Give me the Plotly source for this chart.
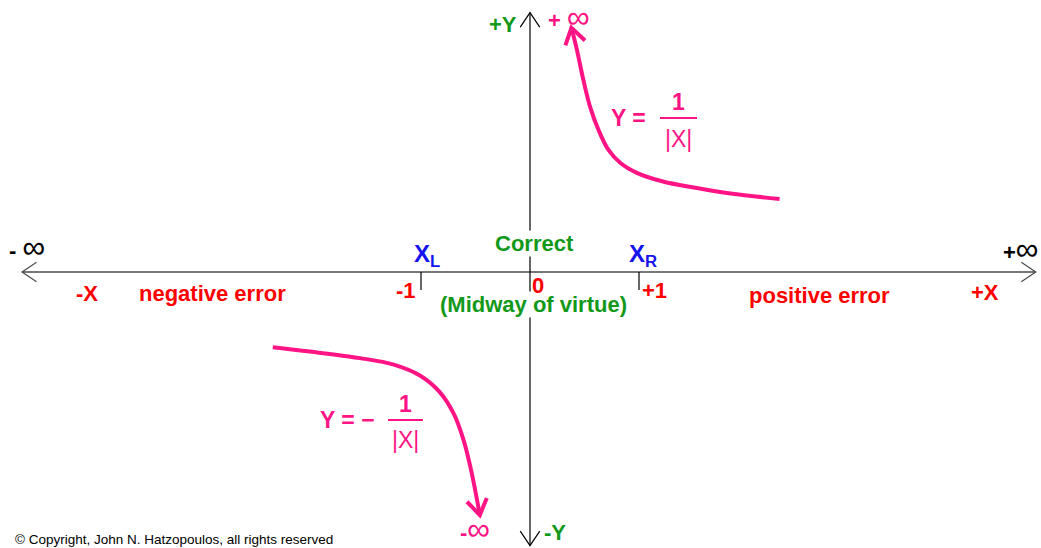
import plotly.graph_objects as go
import numpy as np

# pixels per unit and pixel position of the origin in the 1041x548 picture
PX = 109
X0, Y0 = 530, 272
W, H = 1041, 548

# curve points (x in units of the +-1 ticks, y on the same scale)
upper_x = [2.29, 1.84, 1.53, 1.22, 0.98, 0.83, 0.72, 0.63, 0.55, 0.49, 0.43, 0.38]
upper_y = [0.67, 0.72, 0.77, 0.83, 0.91, 1.00, 1.12, 1.30, 1.52, 1.76, 2.04, 2.24]
lower_x = [-2.36, -2.02, -1.56, -1.25, -1.01, -0.83, -0.70, -0.61, -0.54, -0.46]
lower_y = [-0.69, -0.73, -0.79, -0.85, -0.95, -1.10, -1.30, -1.54, -1.82, -2.23]

x_axis_ends = [-4.66, 4.64]
y_axis_ends = [-2.51, 2.38]
tick_x = [-1, 1]
tick_len = 0.165

PINK = '#ff1485'
GREEN = '#13991a'
RED = '#ff0000'
BLUE = '#1414f0'
FONT = 'Arial, Liberation Sans, sans-serif'


def p(px, py):
    """pixel position -> chart units"""
    return (px - X0) / PX, (Y0 - py) / PX


def arrow_head(x, y, xp, yp, length=0.16, half_angle=34):
    """open V arrow head at (x, y), pointing away from (xp, yp)"""
    d = np.array([xp - x, yp - y], dtype=float)
    d /= np.linalg.norm(d)
    out_x, out_y = [], []
    for a in (half_angle, -half_angle):
        t = np.radians(a)
        r = np.array([d[0] * np.cos(t) - d[1] * np.sin(t),
                      d[0] * np.sin(t) + d[1] * np.cos(t)])
        out_x.append(x + r[0] * length)
        out_y.append(y + r[1] * length)
    return [out_x[0], x, out_x[1]], [out_y[0], y, out_y[1]]


fig = go.Figure()

# axes
fig.add_trace(go.Scatter(x=x_axis_ends, y=[0, 0], mode='lines',
                         line=dict(color='#4a4a4a', width=1.6)))
fig.add_trace(go.Scatter(x=[0, 0], y=y_axis_ends, mode='lines',
                         line=dict(color='black', width=1.2)))
for hx, hy in [arrow_head(x_axis_ends[0], 0, 0, 0),
               arrow_head(x_axis_ends[1], 0, 0, 0)]:
    fig.add_trace(go.Scatter(x=hx, y=hy, mode='lines',
                             line=dict(color='#4a4a4a', width=1.2)))
for hx, hy in [arrow_head(0, y_axis_ends[0], 0, 0),
               arrow_head(0, y_axis_ends[1], 0, 0)]:
    fig.add_trace(go.Scatter(x=hx, y=hy, mode='lines',
                             line=dict(color='black', width=1.2)))

# ticks at -1 and +1
for tx in tick_x:
    fig.add_trace(go.Scatter(x=[tx, tx], y=[0, -tick_len], mode='lines',
                             line=dict(color='black', width=1.2)))

# the two branches
for cx, cy in [(upper_x, upper_y), (lower_x, lower_y)]:
    fig.add_trace(go.Scatter(x=cx, y=cy, mode='lines',
                             line=dict(color=PINK, width=4, shape='spline')))
    hx, hy = arrow_head(cx[-1], cy[-1], cx[-2], cy[-2], length=0.17, half_angle=33)
    fig.add_trace(go.Scatter(x=hx, y=hy, mode='lines',
                             line=dict(color=PINK, width=4)))

annotations = []


def label(text, px, py, color, size=22, bold=True, bg=None, xanchor='center'):
    x, y = p(px, py)
    annotations.append(dict(
        x=x, y=y, text='<b>%s</b>' % text if bold else text,
        showarrow=False, xanchor=xanchor, yanchor='middle',
        font=dict(family=FONT, size=size, color=color),
        bgcolor=bg, borderpad=0))


INF = "<span style='font-size:32px;font-weight:normal'>∞</span>"

label('+Y', 503, 24, GREEN)
label('+ ' + INF, 569, 17, PINK)
label('- ' + INF, 27, 247, 'black')
label('+' + INF, 1021, 249, 'black')
label('-X', 87, 293, RED)
label('negative error', 212, 293, RED)
label('X<sub>L</sub>', 427, 255, BLUE, size=24)
label('Correct', 534, 243, GREEN, bg='white')
label('X<sub>R</sub>', 643, 255, BLUE, size=24)
label('(Midway of virtue)', 533, 304, GREEN, bg='white')
label('-1', 406, 290, RED)
label('0', 538, 285, RED)
label('+1', 654, 290, RED)
label('positive error', 819, 295, RED)
label('+X', 985, 292, RED)
label('-' + INF, 475, 529, PINK)
label('-Y', 555, 532, GREEN)
label('© Copyright, John N. Hatzopoulos, all rights reserved', 14, 539, 'black',
      size=13.5, bold=False, xanchor='left')

# formulas
label('Y =', 628, 118, PINK, size=23)
label('1', 678, 102, PINK, size=23)
label('|X|', 678, 139, PINK, size=23, bold=False)
label('Y = −', 347, 420, PINK, size=23)
label('1', 405, 404, PINK, size=23)
label('|X|', 405, 440, PINK, size=23, bold=False)

shapes = []
for bx0, bx1, by in [(660, 697, 118), (388, 423, 420)]:
    xa, ya = p(bx0, by)
    xb, _ = p(bx1, by)
    shapes.append(dict(type='line', x0=xa, x1=xb, y0=ya, y1=ya,
                       line=dict(color=PINK, width=2)))

fig.update_layout(
    width=W, height=H,
    margin=dict(l=0, r=0, t=0, b=0),
    plot_bgcolor='white', paper_bgcolor='white',
    showlegend=False,
    xaxis=dict(range=[-X0 / PX, (W - X0) / PX], visible=False, fixedrange=True),
    yaxis=dict(range=[-(H - Y0) / PX, Y0 / PX], visible=False, fixedrange=True),
    annotations=annotations,
    shapes=shapes,
)

fig.write_html("out.html", config={'displayModeBar': False},
               post_script="document.body.style.margin='0';"
                           "document.body.style.overflow='hidden';")
